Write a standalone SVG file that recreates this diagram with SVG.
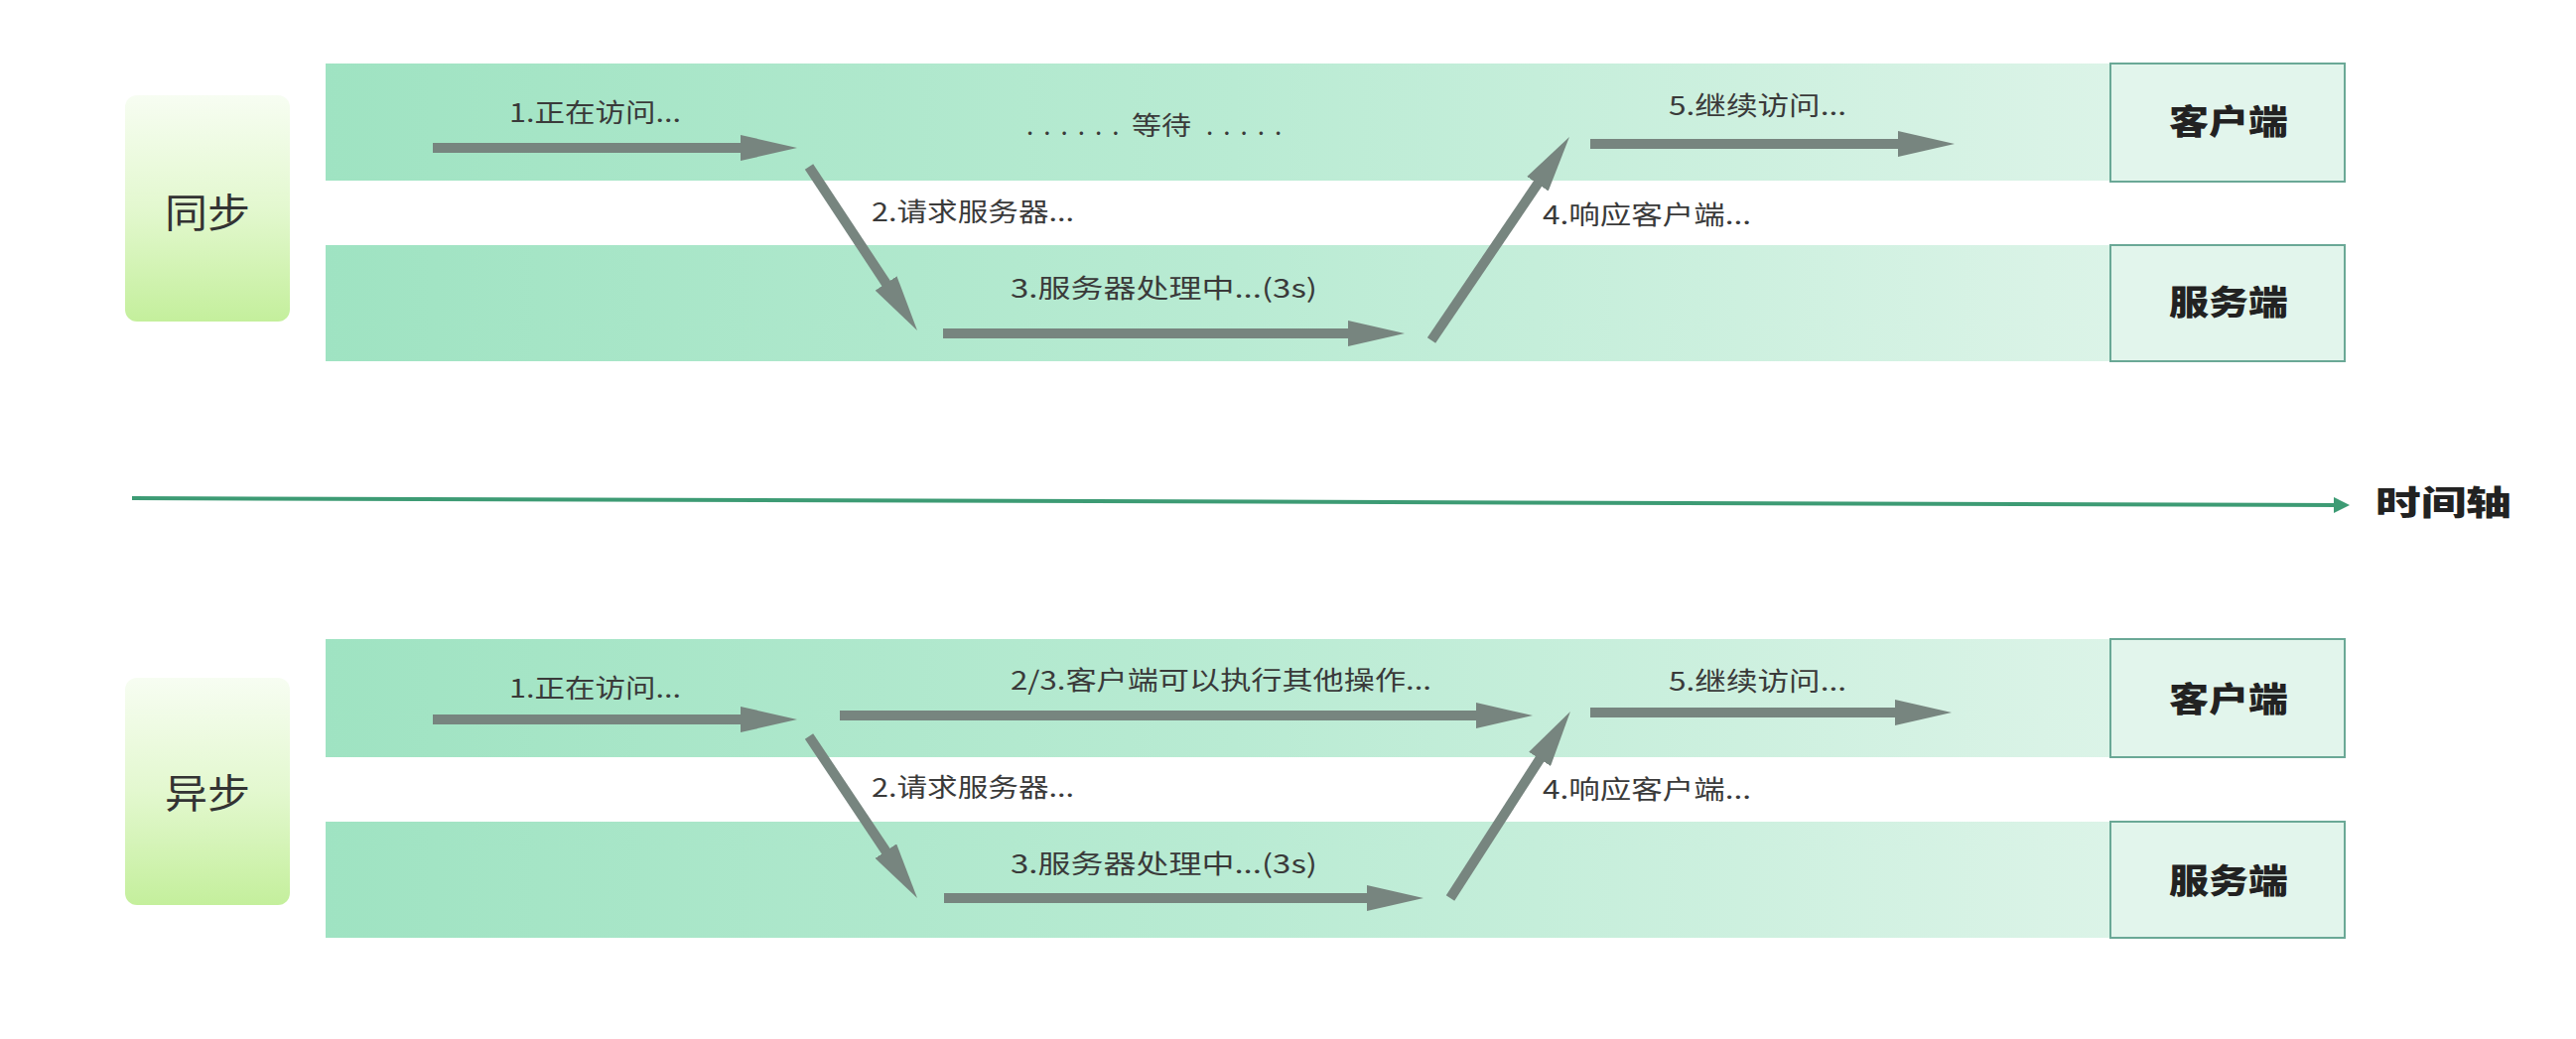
<svg xmlns="http://www.w3.org/2000/svg" width="2595" height="1047" viewBox="0 0 2595 1047">
  <defs>
    <linearGradient id="lane" x1="0" y1="0" x2="1" y2="0">
      <stop offset="0" stop-color="#9fe3c2"/>
      <stop offset="0.45" stop-color="#b9ebd3"/>
      <stop offset="0.85" stop-color="#d9f3e6"/>
      <stop offset="1" stop-color="#e3f6ed"/>
    </linearGradient>
    <linearGradient id="tag" x1="0" y1="0" x2="0" y2="1">
      <stop offset="0" stop-color="#f7fdf2"/>
      <stop offset="0.5" stop-color="#e3f8cf"/>
      <stop offset="1" stop-color="#c4ef9c"/>
    </linearGradient>
    <marker id="head" markerUnits="userSpaceOnUse" viewBox="0 0 57 26" markerWidth="57" markerHeight="26" refX="12" refY="13" orient="auto">
      <path d="M0,0 L57,13 L0,26 Z" fill="#77857f"/>
    </marker>
    <marker id="axisHead" markerUnits="userSpaceOnUse" viewBox="0 0 16 16" markerWidth="16" markerHeight="16" refX="4" refY="8" orient="auto">
      <path d="M0,0 L16,8 L0,16 Z" fill="#3d9b74"/>
    </marker>
  </defs>
  <style>
    .lane { fill: url(#lane); }
    .tag { fill: url(#tag); }
    .box { fill: #e2f5ec; stroke: #6aa896; stroke-width: 2; }
    .lbl { font-family: "Noto Sans CJK SC", "Noto Sans", sans-serif; font-size: 26px; fill: #3a3a3a; }
    .title { font-family: "Noto Sans CJK SC", "Noto Sans", sans-serif; font-size: 40px; fill: #333; dominant-baseline: central; }
    .brush { font-family: "Noto Sans CJK SC", sans-serif; font-size: 34px; font-weight: 900; fill: #222; dominant-baseline: central; }
    .arr { stroke: #77857f; stroke-width: 10; fill: none; marker-end: url(#head); }
    .axis { stroke: #3d9b74; stroke-width: 4; fill: none; marker-end: url(#axisHead); }
  </style>
  <rect width="2595" height="1047" fill="#ffffff"/>

  <!-- Sync section -->
  <g id="sync-tag">
    <rect class="tag" x="126" y="96" width="166" height="228" rx="12"/>
    <text class="title" x="166" y="212" textLength="86" lengthAdjust="spacingAndGlyphs">同步</text>
  </g>
  <g id="sync-client-lane">
    <rect class="lane" x="328" y="64" width="2034" height="118"/>
  </g>
  <g id="sync-server-lane">
    <rect class="lane" x="328" y="247" width="2034" height="117"/>
  </g>
  <g id="sync-client">
    <rect class="box" x="2126" y="64" width="236" height="119"/>
    <text class="brush" x="2185" y="120" textLength="120" lengthAdjust="spacingAndGlyphs">客户端</text>
  </g>
  <g id="sync-server">
    <rect class="box" x="2126" y="247" width="236" height="117"/>
    <text class="brush" x="2185" y="302" textLength="120" lengthAdjust="spacingAndGlyphs">服务端</text>
  </g>

  <!-- Async section -->
  <g id="async-tag">
    <rect class="tag" x="126" y="683" width="166" height="229" rx="12"/>
    <text class="title" x="166" y="797" textLength="86" lengthAdjust="spacingAndGlyphs">异步</text>
  </g>
  <g id="async-client-lane">
    <rect class="lane" x="328" y="644" width="2034" height="119"/>
  </g>
  <g id="async-server-lane">
    <rect class="lane" x="328" y="828" width="2034" height="117"/>
  </g>
  <g id="async-client">
    <rect class="box" x="2126" y="644" width="236" height="119"/>
    <text class="brush" x="2185" y="702" textLength="120" lengthAdjust="spacingAndGlyphs">客户端</text>
  </g>
  <g id="async-server">
    <rect class="box" x="2126" y="828" width="236" height="117"/>
    <text class="brush" x="2185" y="885" textLength="120" lengthAdjust="spacingAndGlyphs">服务端</text>
  </g>

  <!-- Time axis -->
  <g id="time-axis">
    <line class="axis" x1="133" y1="502" x2="2355" y2="509"/>
    <text class="brush" x="2393" y="504" textLength="137" lengthAdjust="spacingAndGlyphs">时间轴</text>
  </g>

  <!-- Connectors -->
  <g id="connectors">
    <line class="arr" x1="436" y1="149" x2="758" y2="149"/>
    <line class="arr" x1="815" y1="168" x2="899.2" y2="295.5"/>
    <line class="arr" x1="950" y1="336" x2="1370" y2="336"/>
    <line class="arr" x1="1442" y1="343" x2="1555.7" y2="175.3"/>
    <line class="arr" x1="1602" y1="145" x2="1924" y2="145"/>

    <line class="arr" x1="436" y1="725" x2="758" y2="725"/>
    <line class="arr" x1="846" y1="721" x2="1499" y2="721"/>
    <line class="arr" x1="815" y1="742" x2="899" y2="867.6"/>
    <line class="arr" x1="951" y1="905" x2="1389" y2="905"/>
    <line class="arr" x1="1461" y1="905" x2="1557.6" y2="754.8"/>
    <line class="arr" x1="1602" y1="718" x2="1921" y2="718"/>
  </g>

  <!-- Labels -->
  <g id="labels">
    <text class="lbl" x="513" y="123" textLength="173" lengthAdjust="spacingAndGlyphs">1.正在访问...</text>
    <text class="lbl" y="136"><tspan x="1034" letter-spacing="10">......</tspan><tspan x="1140" textLength="60" lengthAdjust="spacingAndGlyphs">等待</tspan><tspan x="1215" letter-spacing="10">.....</tspan></text>
    <text class="lbl" x="878" y="223" textLength="204" lengthAdjust="spacingAndGlyphs">2.请求服务器...</text>
    <text class="lbl" x="1018" y="300" textLength="309" lengthAdjust="spacingAndGlyphs">3.服务器处理中...(3s)</text>
    <text class="lbl" x="1554" y="226" textLength="210" lengthAdjust="spacingAndGlyphs">4.响应客户端...</text>
    <text class="lbl" x="1681" y="116" textLength="179" lengthAdjust="spacingAndGlyphs">5.继续访问...</text>

    <text class="lbl" x="513" y="703" textLength="173" lengthAdjust="spacingAndGlyphs">1.正在访问...</text>
    <text class="lbl" x="1018" y="695" textLength="424" lengthAdjust="spacingAndGlyphs">2/3.客户端可以执行其他操作...</text>
    <text class="lbl" x="878" y="803" textLength="204" lengthAdjust="spacingAndGlyphs">2.请求服务器...</text>
    <text class="lbl" x="1018" y="880" textLength="309" lengthAdjust="spacingAndGlyphs">3.服务器处理中...(3s)</text>
    <text class="lbl" x="1554" y="805" textLength="210" lengthAdjust="spacingAndGlyphs">4.响应客户端...</text>
    <text class="lbl" x="1681" y="696" textLength="179" lengthAdjust="spacingAndGlyphs">5.继续访问...</text>
  </g>
</svg>
